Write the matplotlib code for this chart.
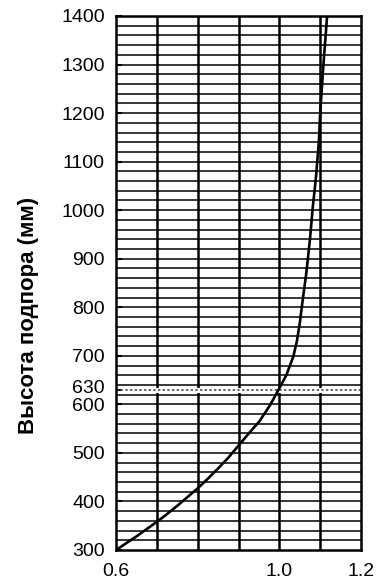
import matplotlib
matplotlib.use("Agg")
import matplotlib.pyplot as plt
import matplotlib.transforms as mtransforms
import numpy as np
from matplotlib.ticker import FixedLocator

plt.rcParams['font.family'] = ['Liberation Sans', 'DejaVu Sans']

# коэффициент в зависимости от высоты подпора
height_mm = [300, 314, 328, 343, 358, 374, 391, 409, 427, 447, 468, 490, 513, 540,
             566, 598, 630, 660, 698, 730, 767, 820, 870, 940, 1007, 1070, 1144,
             1200, 1300, 1400]
coef = [0.600, 0.625, 0.650, 0.675, 0.700, 0.725, 0.750, 0.775, 0.800, 0.825, 0.850,
        0.875, 0.898, 0.925, 0.952, 0.977, 0.998, 1.017, 1.034, 1.043, 1.050, 1.058,
        1.066, 1.075, 1.082, 1.090, 1.097, 1.100, 1.108, 1.117]

y_ticks = [300, 400, 500, 600, 630, 700, 800, 900, 1000, 1100, 1200, 1300, 1400]
x_ticks = [0.6, 1.0, 1.2]
x_tick_labels = ['0.6', '1.0', '1.2']
ref_height = 630

fig = plt.figure(figsize=(3.81, 5.83), dpi=100)
ax = fig.add_axes([116 / 381, 1 - 550 / 583, 245 / 381, 534 / 583])

ax.set_xlim(0.6, 1.2)
ax.set_ylim(300, 1400)

# сетка: вертикальные линии через 0.1, горизонтальные через 20 мм
for xv in np.arange(0.7, 1.15, 0.1):
    ax.axvline(xv, color='black', lw=1.8, zorder=1)
for yv in range(320, 1400, 20):
    ax.axhline(yv, color='black', lw=1.1, zorder=1)

ax.axhline(ref_height, color='white', lw=3.5, zorder=1.5)
ax.axhline(ref_height, color='#666666', lw=1.4, ls=(0, (1.2, 1.2)), zorder=2)

ax.plot(coef, height_mm, color='black', lw=1.9, zorder=3,
        solid_joinstyle='round', solid_capstyle='butt')

ax.xaxis.set_major_locator(FixedLocator(x_ticks))
ax.set_xticklabels(x_tick_labels)
ax.yaxis.set_major_locator(FixedLocator(y_ticks))
ax.set_yticklabels([str(v) for v in y_ticks])
ax.tick_params(axis='y', direction='in', length=4, width=1.5, pad=8, labelsize=14)
ax.tick_params(axis='x', length=0, pad=9, labelsize=14)

# подпись 630 чуть выше, чтобы не наезжала на 600
for lbl in ax.get_yticklabels():
    if lbl.get_text() == '630':
        lbl.set_transform(lbl.get_transform() +
                          mtransforms.ScaledTranslation(0, 3 / 100, fig.dpi_scale_trans))

for s in ax.spines.values():
    s.set_linewidth(1.8)

fig.text(29 / 381, 1 - 315 / 583, 'Высота подпора (мм)', rotation=90,
         ha='center', va='center', fontsize=16, fontweight='bold')

fig.savefig('out.png', dpi=100)
